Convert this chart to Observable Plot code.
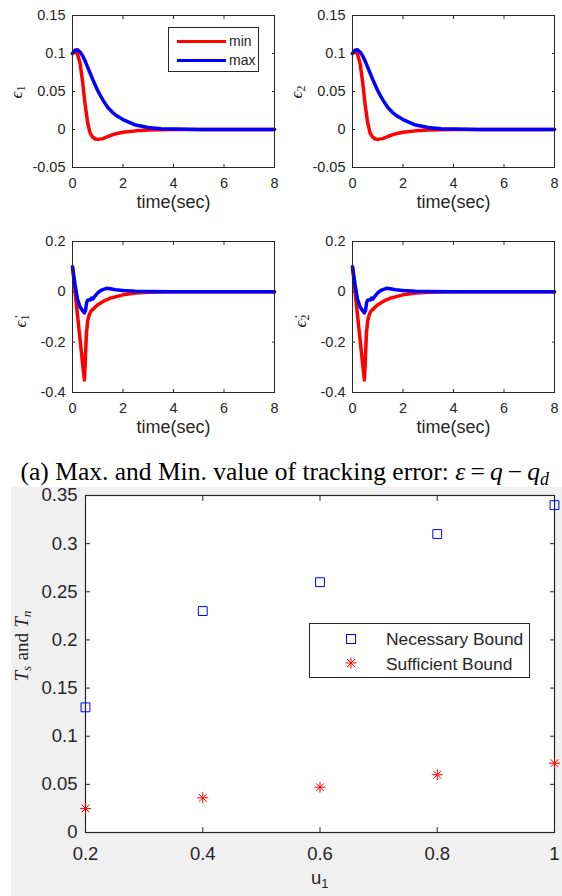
<!DOCTYPE html>
<html>
<head>
<meta charset="utf-8">
<script src="https://cdn.jsdelivr.net/npm/d3@7"></script>
<script src="https://cdn.jsdelivr.net/npm/@observablehq/plot@0.6"></script>
<style>
  html, body { margin: 0; padding: 0; background: #fff; }
  #fig { position: relative; width: 562px; height: 896px; overflow: hidden; background: #fff; font-family: "Liberation Sans", Arial, sans-serif; color: #262626; }
  .rot { position: absolute; white-space: nowrap; transform: translate(-50%, -50%) rotate(-90deg); line-height: 1; }
  .math { font-family: "Liberation Serif", "DejaVu Serif", serif; font-style: italic; }
  sub { font-size: 70%; vertical-align: -0.3em; line-height: 0; }
</style>
</head>
<body>
<div id="fig"></div>
<script>
// ---------------- data ----------------
// tracking error epsilon (min / max runs)
const tErrMin = [0, 0.1, 0.2, 0.3, 0.4, 0.5, 0.6, 0.7, 0.8, 0.9, 1.0, 1.2, 1.4, 1.6, 1.8, 2.0, 2.5, 3.0, 3.5, 4, 5, 6, 7, 8];
const errMin  = [0.1, 0.104, 0.099, 0.087, 0.063, 0.033, 0.009, -0.005, -0.010, -0.0125, -0.013, -0.012, -0.0092, -0.0068, -0.005, -0.0036, -0.0018, -0.0008, -0.0003, -0.0001, 0, 0, 0, 0];
const tErrMax = [0, 0.1, 0.2, 0.3, 0.4, 0.5, 0.6, 0.8, 1.0, 1.2, 1.4, 1.6, 1.8, 2.0, 2.5, 3.0, 3.5, 4, 5, 6, 7, 8];
const errMax  = [0.1, 0.104, 0.105, 0.102, 0.097, 0.090, 0.082, 0.066, 0.051, 0.039, 0.029, 0.022, 0.017, 0.013, 0.0058, 0.0026, 0.0011, 0.0005, 0, 0, 0, 0];
// derivative of tracking error (min / max runs)
const tDErrMin = [0, 0.1, 0.2, 0.3, 0.4, 0.47, 0.5, 0.55, 0.6, 0.66, 0.72, 0.85, 1.0, 1.25, 1.5, 2.0, 2.5, 3.0, 3.5, 4, 5, 6, 8];
const dErrMin  = [0.1, 0.0, -0.095, -0.19, -0.285, -0.35, -0.29, -0.167, -0.115, -0.092, -0.078, -0.065, -0.051, -0.036, -0.025, -0.012, -0.005, -0.0015, -0.0005, 0, 0, 0, 0];
const tDErrMax = [0, 0.1, 0.2, 0.3, 0.4, 0.47, 0.52, 0.56, 0.6, 0.65, 0.7, 0.75, 0.8, 0.85, 0.9, 1.0, 1.1, 1.2, 1.35, 1.5, 1.7, 2.0, 2.5, 3.0, 4, 5, 6, 8];
const dErrMax  = [0.1, 0.03, -0.03, -0.06, -0.075, -0.084, -0.072, -0.042, -0.033, -0.032, -0.033, -0.025, -0.029, -0.022, -0.016, -0.004, 0.004, 0.009, 0.014, 0.012, 0.008, 0.005, 0.002, 0.001, 0, 0, 0, 0];
// joint 2 shows the same responses
const tErr2Min = tErrMin, err2Min = errMin, tErr2Max = tErrMax, err2Max = errMax;
const tDErr2Min = tDErrMin, dErr2Min = dErrMin, tDErr2Max = tDErrMax, dErr2Max = dErrMax;

// bounds vs u1
const u1Values = [0.2, 0.4, 0.6, 0.8, 1.0];
const necessaryBound = [0.13, 0.23, 0.26, 0.31, 0.34];
const sufficientBound = [0.025, 0.036, 0.047, 0.06, 0.072];

// ticks and labels
const timeTicks = [0, 2, 4, 6, 8];
const timeTickLabels = ["0", "2", "4", "6", "8"];
const errTicks = [-0.05, 0, 0.05, 0.1, 0.15];
const errTickLabels = ["-0.05", "0", "0.05", "0.1", "0.15"];
const dErrTicks = [-0.4, -0.2, 0, 0.2];
const dErrTickLabels = ["-0.4", "-0.2", "0", "0.2"];
const u1Ticks = [0.2, 0.4, 0.6, 0.8, 1];
const u1TickLabels = ["0.2", "0.4", "0.6", "0.8", "1"];
const boundTicks = [0, 0.05, 0.1, 0.15, 0.2, 0.25, 0.3, 0.35];
const boundTickLabels = ["0", "0.05", "0.1", "0.15", "0.2", "0.25", "0.3", "0.35"];
const seriesNames = ["min", "max"];
const boundNames = ["Necessary Bound", "Sufficient Bound"];

// ---------------- drawing ----------------
const fig = document.getElementById("fig");
const AX = "#262626";
const fmt = (ticks, labels) => d => labels[ticks.findIndex(t => Math.abs(t - d) < 1e-9)];

function place(el, left, top) {
  el.style.position = "absolute";
  el.style.left = left + "px";
  el.style.top = top + "px";
  fig.appendChild(el);
  return el;
}

function panel(tMin, vMin, tMax, vMax, yDomain, yTicks, yLabels, mt, mb) {
  const minData = tMin.map((t, i) => ({t, v: vMin[i]}));
  const maxData = tMax.map((t, i) => ({t, v: vMax[i]}));
  return Plot.plot({
    width: 281, height: 220,
    marginLeft: 72, marginRight: 7, marginTop: mt, marginBottom: mb,
    style: {fontFamily: '"Liberation Sans", Arial, sans-serif', fontSize: "14.5px", color: AX, background: "transparent", overflow: "visible"},
    x: {domain: [0, 8]},
    y: {domain: yDomain},
    marks: [
      Plot.line(minData, {x: "t", y: "v", stroke: "#ff0000", strokeWidth: 3.5}),
      Plot.line(maxData, {x: "t", y: "v", stroke: "#0000ff", strokeWidth: 3.5}),
      Plot.frame({stroke: AX, strokeWidth: 1}),
      Plot.axisX(timeTicks, {anchor: "bottom", tickSize: -3, tickPadding: 13, tickFormat: fmt(timeTicks, timeTickLabels), label: null, stroke: AX}),
      Plot.axisX(timeTicks, {anchor: "top", tickSize: -3, tickFormat: () => "", label: null, stroke: AX}),
      Plot.axisY(yTicks, {anchor: "left", tickSize: -3, tickPadding: 10, tickFormat: fmt(yTicks, yLabels), label: null, stroke: AX}),
      Plot.axisY(yTicks, {anchor: "right", tickSize: -3, tickFormat: () => "", label: null, stroke: AX}),
      Plot.text(["time(sec)"], {frameAnchor: "bottom", dy: 40, text: d => d, fontSize: 18, fill: AX})
    ]
  });
}

place(panel(tErrMin, errMin, tErrMax, errMax, [-0.05, 0.15], errTicks, errTickLabels, 15, 53), 0, 0);
place(panel(tErr2Min, err2Min, tErr2Max, err2Max, [-0.05, 0.15], errTicks, errTickLabels, 15, 53), 280, 0);
place(panel(tDErrMin, dErrMin, tDErrMax, dErrMax, [-0.4, 0.2], dErrTicks, dErrTickLabels, 21, 48), 0, 220);
place(panel(tDErr2Min, dErr2Min, tDErr2Max, dErr2Max, [-0.4, 0.2], dErrTicks, dErrTickLabels, 21, 48), 280, 220);

// y labels of the panels
function rotLabel(html, cx, cy, cls, size) {
  const d = document.createElement("div");
  d.className = "rot " + (cls || "");
  d.innerHTML = html;
  d.style.left = cx + "px";
  d.style.top = cy + "px";
  d.style.fontSize = size + "px";
  fig.appendChild(d);
}
rotLabel('\u03F5<sub style="font-style:normal">1</sub>', 16, 92, "math", 17);
rotLabel('\u03F5<sub style="font-style:normal">2</sub>', 296, 92, "math", 17);
rotLabel('\u03F5\u0307<sub style="font-style:normal">1</sub>', 20, 321, "math", 17);
rotLabel('\u03F5\u0307<sub style="font-style:normal">2</sub>', 300, 321, "math", 17);

// legend of the first panel
const leg1 = document.createElement("div");
leg1.style.cssText = "width:89px;height:43px;border:1px solid " + AX + ";background:#fff;font-size:14px;color:" + AX + ";";
leg1.innerHTML = seriesNames.map((n, i) =>
  `<div style="position:absolute;left:8px;top:${12 + i * 19}px;width:49px;height:3px;background:${i ? "#0000ff" : "#ff0000"}"></div>` +
  `<div style="position:absolute;left:60px;top:${5 + i * 19}px;line-height:16px">${n}</div>`).join("");
place(leg1, 168, 27);

// caption
const cap = document.createElement("div");
cap.style.cssText = "width:549px;height:20px;text-align:right;font-family:'Liberation Serif','Times New Roman',serif;font-size:25.5px;line-height:20px;color:#000;white-space:nowrap;";
cap.innerHTML = '(a) Max. and Min. value of tracking error: <i>\u03B5</i>\u2009=\u2009<i>q</i>\u2009\u2212\u2009<i>q<sub>d</sub></i>';
place(cap, 0, 462);

// ---------------- bottom chart ----------------
const asterisk8 = {
  draw(context, size) {
    const r = Math.sqrt(size / Math.PI);
    const d = r * Math.SQRT1_2;
    context.moveTo(-r, 0); context.lineTo(r, 0);
    context.moveTo(0, -r); context.lineTo(0, r);
    context.moveTo(-d, -d); context.lineTo(d, d);
    context.moveTo(-d, d); context.lineTo(d, -d);
  }
};
const nec = u1Values.map((u, i) => ({u, v: necessaryBound[i]}));
const suf = u1Values.map((u, i) => ({u, v: sufficientBound[i]}));

const bottom = Plot.plot({
  width: 551, height: 409,
  marginLeft: 74, marginRight: 8, marginTop: 8, marginBottom: 64,
  style: {fontFamily: '"Liberation Sans", Arial, sans-serif', fontSize: "18.5px", color: AX, background: "#f0f0f0", overflow: "visible"},
  x: {domain: [0.2, 1]},
  y: {domain: [0, 0.35]},
  marks: [
    Plot.frame({fill: "#fff", stroke: null}),
    Plot.axisX(u1Ticks, {anchor: "bottom", tickSize: -5, tickPadding: 19, tickFormat: fmt(u1Ticks, u1TickLabels), label: null, stroke: AX}),
    Plot.axisX(u1Ticks, {anchor: "top", tickSize: -5, tickFormat: () => "", label: null, stroke: AX}),
    Plot.axisY(boundTicks, {anchor: "left", tickSize: -5, tickPadding: 13, tickFormat: fmt(boundTicks, boundTickLabels), label: null, stroke: AX}),
    Plot.axisY(boundTicks, {anchor: "right", tickSize: -5, tickFormat: () => "", label: null, stroke: AX}),
    Plot.frame({stroke: AX, strokeWidth: 1.2}),
    Plot.dot(nec, {x: "u", y: "v", symbol: "square", r: 5, fill: "none", stroke: "#0000ff", strokeWidth: 1}),
    Plot.dot(suf, {x: "u", y: "v", symbol: asterisk8, r: 5.5, fill: "none", stroke: "#ff0000", strokeWidth: 1})
  ]
});
place(bottom, 11, 487);

// bottom labels
rotLabel('<span class="math">T<sub>s</sub></span> <span style="font-family:\'Liberation Serif\',serif">and</span> <span class="math">T<sub>n</sub></span>', 21, 646, "", 19);
const ul = document.createElement("div");
ul.style.cssText = "font-size:18.5px;line-height:18px;color:" + AX + ";white-space:nowrap;";
ul.innerHTML = 'u<sub>1</sub>';
place(ul, 311, 869);

// bottom legend
const leg2 = document.createElement("div");
leg2.style.cssText = "width:219px;height:53px;border:1px solid " + AX + ";background:#fff;font-size:17.4px;color:" + AX + ";";
leg2.innerHTML =
  `<svg style="position:absolute;left:0;top:0" width="219" height="53">
     <rect x="36.5" y="10.5" width="9" height="9" fill="none" stroke="#0000ff"/>
     <g stroke="#ff0000" fill="none" transform="translate(41,39)">
       <path d="M-5.5,0H5.5M0,-5.5V5.5M-3.9,-3.9L3.9,3.9M-3.9,3.9L3.9,-3.9"/>
     </g>
   </svg>` +
  boundNames.map((n, i) => `<div style="position:absolute;left:76px;top:${5 + i * 25}px;line-height:20px;white-space:nowrap">${n}</div>`).join("");
place(leg2, 309, 623);
</script>
</body>
</html>
